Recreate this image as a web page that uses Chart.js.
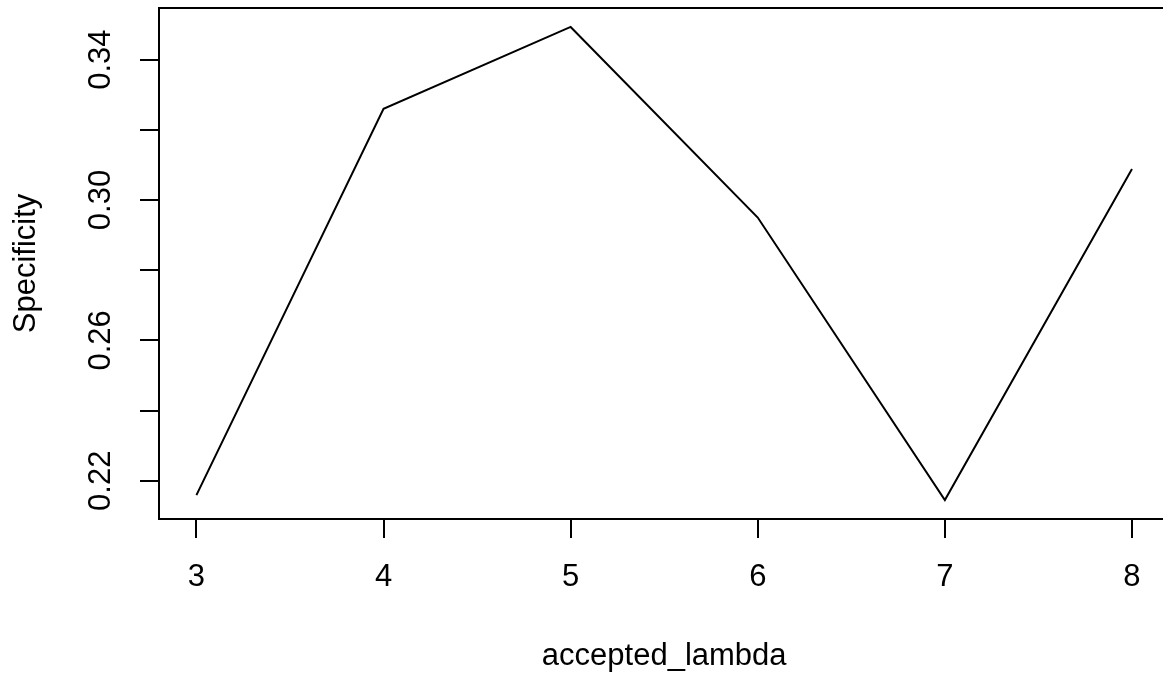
<!DOCTYPE html>
<html>
<head>
<meta charset="utf-8">
<title>Specificity by accepted_lambda</title>
<script src="https://cdn.jsdelivr.net/npm/chart.js@4/dist/chart.umd.min.js"></script>
<style>
  html, body { margin: 0; padding: 0; background: #ffffff; overflow: hidden; }
  canvas { display: block; }
</style>
</head>
<body>
<!-- The plot region runs slightly past the right edge of the window -->
<canvas id="chart" width="1170" height="673"></canvas>
<script>
// Specificity measured for each accepted lambda
const lambdaValues = [3, 4, 5, 6, 7, 8];
const specificity = [0.2159, 0.3260, 0.3493, 0.2950, 0.2145, 0.3088];

// Axis ticks and their labels (unlabelled ticks keep an empty string)
const xTickValues = [3, 4, 5, 6, 7, 8];
const xTickLabels = ['3', '4', '5', '6', '7', '8'];
const yTickValues = [0.22, 0.24, 0.26, 0.28, 0.30, 0.32, 0.34];
const yTickLabels = ['0.22', '', '0.26', '', '0.30', '', '0.34'];

// Axis ranges (data range padded by 4% on each side)
const xLimits = [2.8, 8.2];
const yLimits = [0.2091, 0.3547];

const FONT_FAMILY = '"Liberation Sans", Arial, Helvetica, sans-serif';
const FONT_SIZE = 31;

// Draws the closed frame around the plotting region
const plotFrame = {
  id: 'plotFrame',
  afterDatasetsDraw(chart) {
    const { ctx, chartArea: a } = chart;
    ctx.save();
    ctx.strokeStyle = '#000000';
    ctx.lineWidth = 2;
    ctx.strokeRect(a.left, a.top, a.right - a.left, a.bottom - a.top);
    ctx.restore();
  }
};

const points = lambdaValues.map((x, i) => ({ x: x, y: specificity[i] }));

new Chart(document.getElementById('chart'), {
  type: 'line',
  data: {
    datasets: [{
      data: points,
      borderColor: '#000000',
      borderWidth: 2,
      pointRadius: 0,
      pointHoverRadius: 0,
      tension: 0,
      fill: false
    }]
  },
  options: {
    responsive: false,
    animation: false,
    devicePixelRatio: 1,
    events: [],
    layout: { padding: { top: 8, right: 0.6, bottom: 0, left: 0 } },
    plugins: {
      legend: { display: false },
      tooltip: { enabled: false }
    },
    scales: {
      x: {
        type: 'linear',
        position: 'bottom',
        min: xLimits[0],
        max: xLimits[1],
        afterBuildTicks(axis) {
          axis.ticks = xTickValues.map(v => ({ value: v }));
        },
        afterFit(axis) {
          axis.height = 154;
          axis.paddingLeft = 0;
          axis.paddingRight = 0;
        },
        border: { display: false },
        grid: {
          display: true,
          drawOnChartArea: false,
          drawTicks: true,
          tickLength: 19,
          lineWidth: 2,
          color: '#000000'
        },
        ticks: {
          autoSkip: false,
          maxRotation: 0,
          minRotation: 0,
          padding: 23.8,
          color: '#000000',
          font: { family: FONT_FAMILY, size: FONT_SIZE, lineHeight: 1 },
          callback: (value, index) => xTickLabels[index]
        },
        title: {
          display: true,
          text: 'accepted_lambda',
          color: '#000000',
          font: { family: FONT_FAMILY, size: FONT_SIZE, lineHeight: 1 },
          padding: { top: 0, bottom: 1.2 }
        }
      },
      y: {
        type: 'linear',
        position: 'left',
        min: yLimits[0],
        max: yLimits[1],
        afterBuildTicks(axis) {
          axis.ticks = yTickValues.map(v => ({ value: v }));
        },
        afterFit(axis) {
          axis.width = 159;
          axis.paddingTop = 0;
          axis.paddingBottom = 0;
        },
        border: { display: false },
        grid: {
          display: true,
          drawOnChartArea: false,
          drawTicks: true,
          tickLength: 19,
          lineWidth: 2,
          color: '#000000'
        },
        ticks: {
          autoSkip: false,
          minRotation: 90,
          maxRotation: 90,
          crossAlign: 'center',
          padding: 8.3,
          color: '#000000',
          font: { family: FONT_FAMILY, size: FONT_SIZE, lineHeight: 1.2 },
          callback: (value, index) => yTickLabels[index]
        },
        title: {
          display: true,
          text: 'Specificity',
          color: '#000000',
          font: { family: FONT_FAMILY, size: FONT_SIZE, lineHeight: 1 },
          padding: { top: 10.8, bottom: 0 }
        }
      }
    }
  },
  plugins: [plotFrame]
});
</script>
</body>
</html>
